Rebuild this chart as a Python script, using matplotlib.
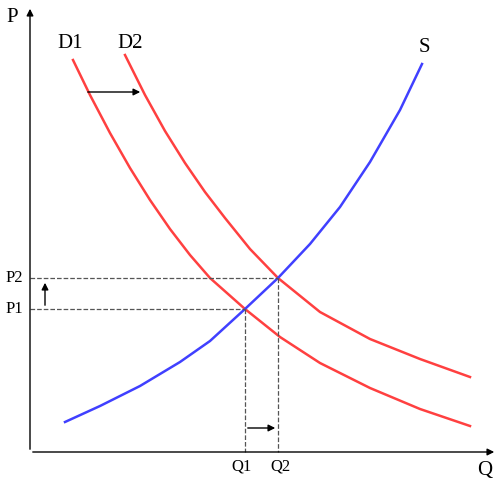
import matplotlib
matplotlib.use("Agg")
import matplotlib.pyplot as plt

# curve points (pixel-like coordinates, y downwards)
d1_x = [73, 90, 110, 130, 150, 170, 190, 210, 245, 280, 320, 370, 420, 470]
d1_y = [60, 95, 133, 168, 200, 229, 255, 278, 309, 337, 363, 388, 409, 426]
d2_x = [125, 145, 165, 185, 205, 225, 250, 278, 320, 370, 420, 470]
d2_y = [55, 95, 131, 163, 192, 218, 249, 278, 312, 339, 359, 377]
s_x = [65, 100, 140, 180, 210, 245, 278, 310, 340, 370, 400, 422]
s_y = [422, 406, 386, 362, 341, 309, 278, 244, 207, 162, 110, 64]
eq1 = (245, 309)
eq2 = (278, 278)

plt.rcParams['font.family'] = ['Liberation Serif', 'DejaVu Serif']
fig = plt.figure(figsize=(5.04, 4.94), dpi=100)
ax = fig.add_axes([0, 0, 1, 1])
ax.set_xlim(0, 504)
ax.set_ylim(494, 0)
ax.axis('off')

origin = (30, 452)
ax.annotate('', xy=(30, 6), xytext=origin,
            arrowprops=dict(arrowstyle='-|>', color='black', lw=1))
ax.annotate('', xy=(497, 452), xytext=origin,
            arrowprops=dict(arrowstyle='-|>', color='black', lw=1))

ax.plot(d1_x, d1_y, color='#ff4040', lw=1.8)
ax.plot(d2_x, d2_y, color='#ff4040', lw=1.8)
ax.plot(s_x, s_y, color='#4040ff', lw=1.8)

for (qx, py) in (eq1, eq2):
    ax.plot([30, qx], [py, py], ls='--', color='#555555', lw=0.9)
    ax.plot([qx, qx], [py, 452], ls='--', color='#555555', lw=0.9)

arrow = dict(arrowstyle='-|>', color='black', lw=1)
ax.annotate('', xy=(143, 92), xytext=(85, 92), arrowprops=arrow)
ax.annotate('', xy=(278, 428), xytext=(245, 428), arrowprops=arrow)
ax.annotate('', xy=(45, 280), xytext=(45, 308), arrowprops=arrow)

ax.text(12, 18, 'P', fontsize=15, ha='center', va='center')
ax.text(485, 470, 'Q', fontsize=15, ha='center', va='center')
ax.text(70, 43, 'D1', fontsize=15, ha='center', va='center')
ax.text(130, 43, 'D2', fontsize=15, ha='center', va='center')
ax.text(424, 47, 'S', fontsize=15, ha='center', va='center')
ax.text(14, eq2[1], 'P2', fontsize=12, ha='center', va='center')
ax.text(14, eq1[1], 'P1', fontsize=12, ha='center', va='center')
ax.text(eq1[0] - 3, 466, 'Q1', fontsize=12, ha='center', va='center')
ax.text(eq2[0] + 2, 466, 'Q2', fontsize=12, ha='center', va='center')

fig.savefig('out.png', dpi=100)
